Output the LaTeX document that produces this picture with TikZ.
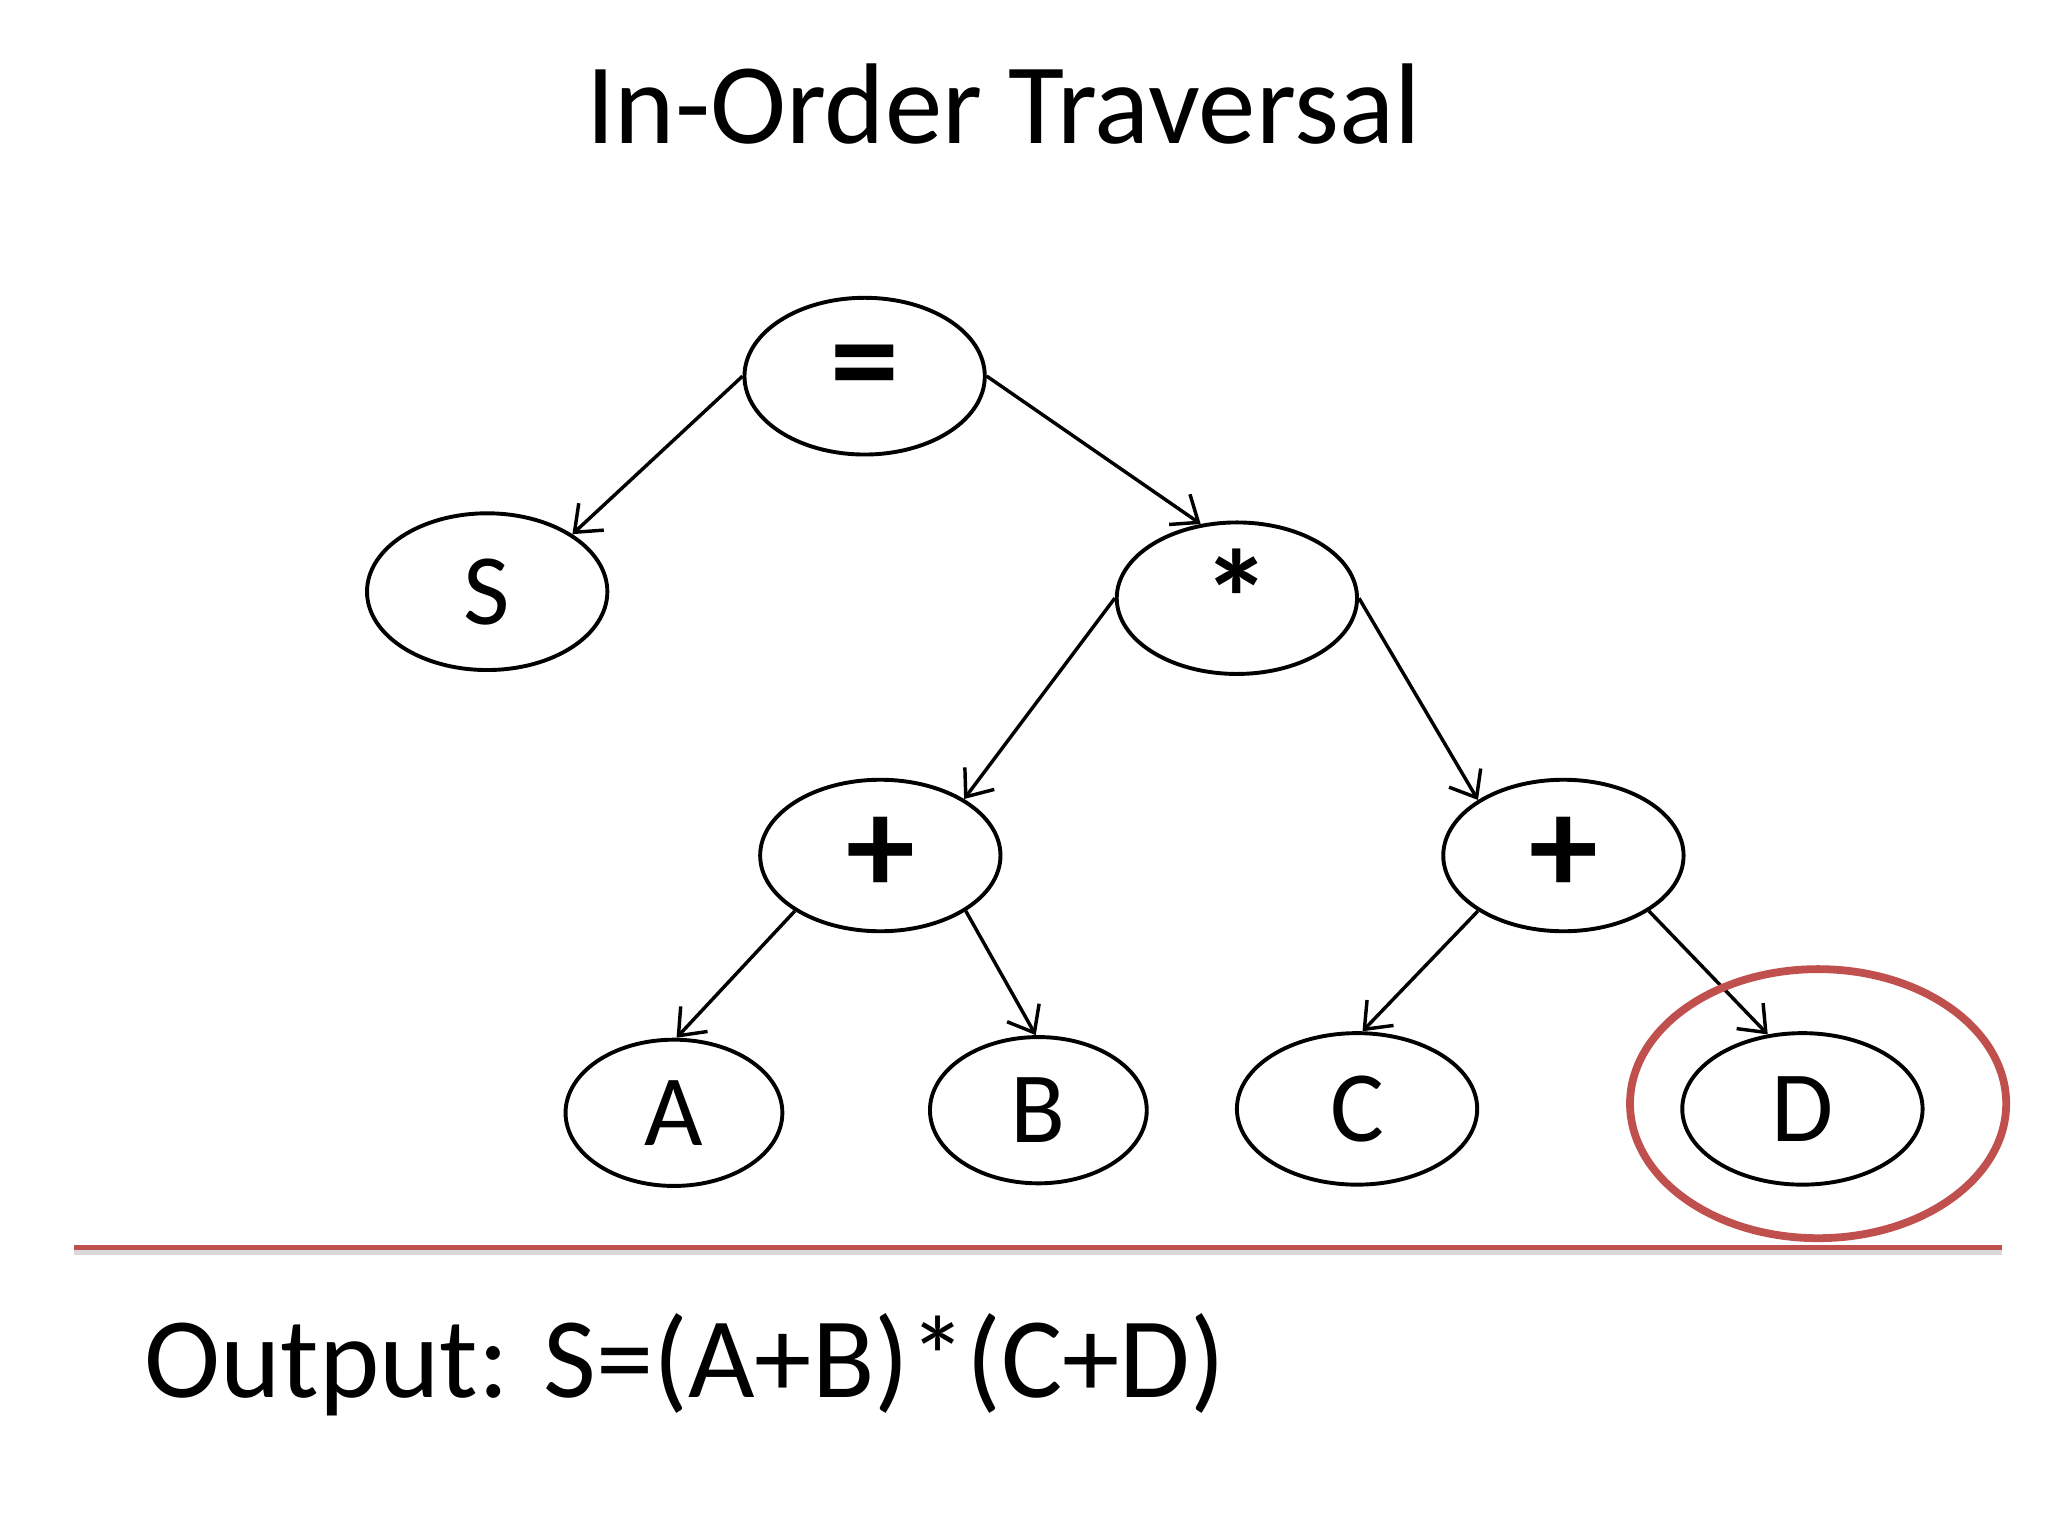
\documentclass[tikz,border=0pt]{standalone}
\usepackage{fontspec}
\setmainfont{Carlito}
\usetikzlibrary{shapes.geometric,arrows.meta}
\definecolor{rd}{RGB}{192,80,77}
\begin{document}
\begin{tikzpicture}[x=0.01cm,y=-0.01cm,
  nd/.style={ellipse,draw,line width=0.85pt,minimum width=184\pgflinewidth*0+5.2cm*0+184*0.01cm,minimum height=116*0.01cm,inner sep=0pt,font=\fontsize{22}{24}\selectfont},
  sm/.style={nd,minimum width=166*0.01cm,minimum height=112*0.01cm},
  ed/.style={line width=0.75pt,-{Straight Barb[length=5pt,width=8pt]}}]
\useasboundingbox (0,0) rectangle (1568,1176);
\node (t) at (768,80) {\fontsize{25}{30}\selectfont In-Order Traversal};
\node[nd,minimum height=120*0.01cm] (eq) at (662,288) {\fontsize{30}{30}\selectfont\textbf{=}};
\node[nd,minimum height=120*0.01cm] (S) at (373,453) {S};
\node[nd] (st) at (947,458) {\fontsize{30}{30}\selectfont\textbf{*}};
\node[nd] (pl) at (674,655) {\fontsize{30}{30}\selectfont\textbf{+}};
\node[nd] (pr) at (1197,655) {\fontsize{30}{30}\selectfont\textbf{+}};
\node[sm] (A) at (516,852) {A};
\node[sm] (B) at (795,850) {B};
\node[nd] (C) at (1039,849) {C};
\node[nd] (D) at (1380,849) {D};
\draw[ed] (eq.180) -- (S.34);
\draw[ed] (eq.0) -- (st.116);
\draw[ed] (st.180) -- (pl.34);
\draw[ed] (st.0) -- (pr.147);
\draw[ed] (pl.213) -- (A.88);
\draw[ed] (pl.327) -- (B.92);
\draw[ed] (pr.213) -- (C.86);
\draw[ed] (pr.327) -- (D.115);
\node[ellipse,draw=rd,line width=1.7pt,minimum width=288*0.01cm,minimum height=206*0.01cm] (hl) at (1392,845) {};
\coordinate (l1) at (57,955); \coordinate (l2) at (1533,955);
\draw[gray!30,line width=1.2pt] ([yshift=-0.04cm]l1) -- ([yshift=-0.04cm]l2);
\draw[rd,line width=1pt] (l1) -- (l2);
\node[anchor=base west,inner sep=0pt] (out) at (110,1070) {\fontsize{25}{30}\selectfont Output: S=(A+B)*(C+D)};
\end{tikzpicture}
\end{document}
